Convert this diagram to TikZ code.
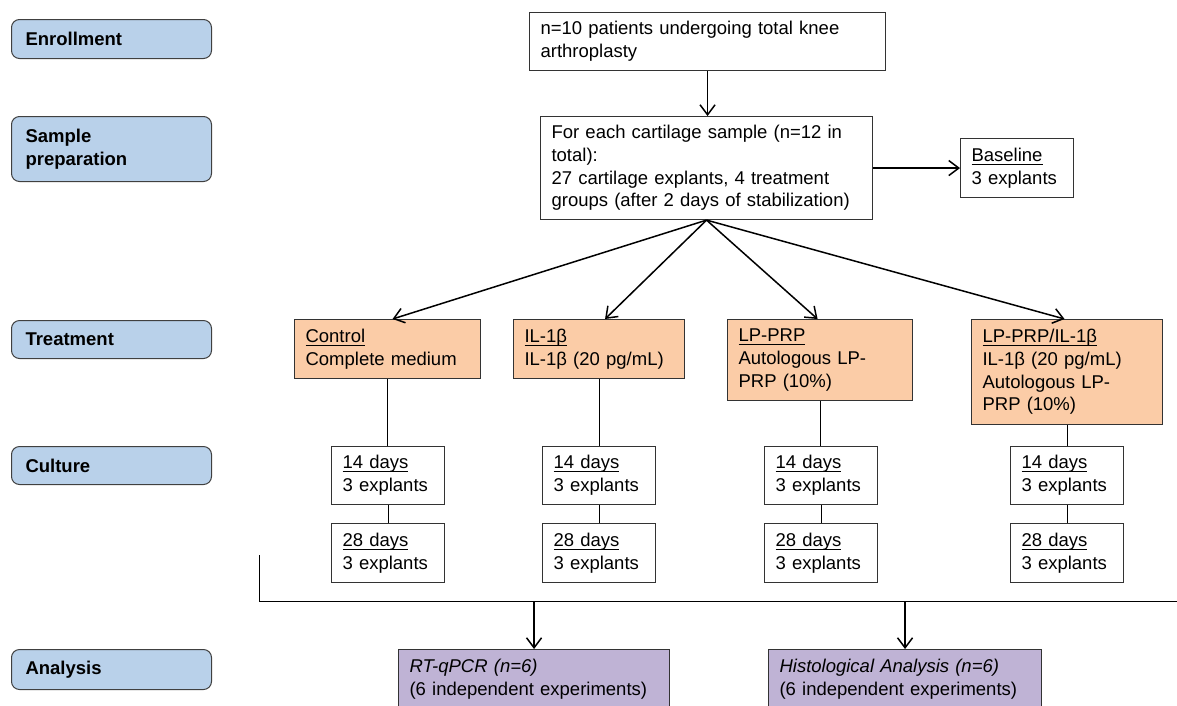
\documentclass[tikz,border=0pt]{standalone}
\usepackage{fontspec}
\setmainfont{Liberation Sans}
\usetikzlibrary{arrows.meta,calc}
\definecolor{lblue}{RGB}{185,209,234}
\definecolor{peach}{RGB}{251,204,167}
\definecolor{lilac}{RGB}{191,179,213}
\newcommand{\myul}[1]{\setbox0\hbox{#1}\rlap{\vrule height -2.2pt depth 3.4pt width \wd0}\box0}
\begin{document}
\begin{tikzpicture}[x=1pt,y=-1pt,
  every node/.style={font=\fontsize{18.5}{22.7}\selectfont},
  lab/.style={draw=black!75, line width=1pt, rounded corners=8pt, fill=lblue,
    anchor=north west, inner xsep=14pt, inner ysep=0pt, align=left,
    minimum width=200pt, text width=172pt,
    font=\fontsize{18.5}{22.7}\selectfont\bfseries},
  bx/.style={draw=black!80, line width=1.1pt, fill=white, anchor=north west,
    inner xsep=11pt, inner ysep=0pt, align=left},
  trt/.style={bx, fill=peach},
  anl/.style={bx, fill=lilac},
  arr/.style={line width=1.5pt, -{Straight Barb[length=10pt,width=15pt]}},
  thinln/.style={line width=1pt}]
\clip (0,0) rectangle (1177,705);
\fill[white] (0,0) rectangle (1177,705);

% left stage labels
\node[lab, minimum height=39pt] (lenr) at (11,19) {Enrollment};
\node[lab, minimum height=65pt] (lsam) at (11,116) {Sample\\preparation};
\node[lab, minimum height=38pt] (ltrt) at (11,320) {Treatment};
\node[lab, minimum height=38pt] (lcul) at (11,446) {Culture};
\node[lab, minimum height=40pt] (lana) at (11,649) {Analysis};

% top flow
\node[bx, minimum width=356pt, minimum height=58pt, text width=334pt] (top) at (529,12)
  {n=10 patients undergoing total knee\\arthroplasty};
\node[bx, minimum width=332pt, minimum height=103pt, text width=310pt] (samp) at (540,116)
  {For each cartilage sample (n=12 in\\total):\\27 cartilage explants, 4 treatment\\groups (after 2 days of stabilization)};
\node[bx, minimum width=113pt, minimum height=59pt, text width=91pt] (base) at (960,138)
  {\myul{Baseline}\\3 explants};

\draw[arr] (top.south) -- (top.south |- samp.north);
\draw[arr] (samp.east) -- (base.west);

% treatments
\node[trt, minimum width=186pt, minimum height=59pt, text width=164pt] (ctrl) at (294,319)
  {\myul{Control}\\Complete medium};
\node[trt, minimum width=171pt, minimum height=59pt, text width=149pt] (il) at (513,319)
  {\myul{IL-1β}\\IL-1β (20 pg/mL)};
\node[trt, minimum width=185pt, minimum height=81pt, text width=163pt] (lp) at (727,319)
  {\myul{LP-PRP}\\Autologous LP-\\PRP (10\%)};
\node[trt, minimum width=191pt, minimum height=105pt, text width=169pt] (lpil) at (971,319)
  {\myul{LP-PRP/IL-1β}\\IL-1β (20 pg/mL)\\Autologous LP-\\PRP (10\%)};

\draw[arr] (samp.south) -- ([xshift=5pt]ctrl.north);
\draw[arr] (samp.south) -- ([xshift=6pt]il.north);
\draw[arr] (samp.south) -- ([xshift=-2.5pt]lp.north);
\draw[arr] (samp.south) -- ([xshift=-2.5pt]lpil.north);

% culture
\foreach \nm/\xx in {ca/331,cb/542,cc/764,cd/1010}{
  \node[bx, minimum width=113pt, minimum height=58pt, text width=91pt] (\nm14) at (\xx,446)
    {\myul{14 days}\\3 explants};
  \node[bx, minimum width=113pt, minimum height=59pt, text width=91pt] (\nm28) at (\xx,523)
    {\myul{28 days}\\3 explants};
  \draw[thinln] (\nm14.south) -- (\nm28.north);
}
\draw[thinln] (ctrl.south) -- (ctrl.south |- ca14.north);
\draw[thinln] (il.south) -- (il.south |- cb14.north);
\draw[thinln] (lp.south) -- (lp.south |- cc14.north);
\draw[thinln] (lpil.south) -- (lpil.south |- cd14.north);

% analysis
\node[anl, minimum width=271pt, minimum height=59pt, text width=249pt] (rt) at (398,649)
  {\textit{RT-qPCR (n=6)}\\(6 independent experiments)};
\node[anl, minimum width=273pt, minimum height=59pt, text width=251pt] (hist) at (768,649)
  {\textit{Histological Analysis (n=6)}\\(6 independent experiments)};

\coordinate (b1) at (259,555);
\coordinate (b2) at (259,601);
\coordinate (b3) at (1177,601);
\draw[thinln] (b1) -- (b2) -- (b3);
\draw[arr] (rt.north |- b2) -- (rt.north);
\draw[arr] (hist.north |- b2) -- (hist.north);
\end{tikzpicture}
\end{document}
